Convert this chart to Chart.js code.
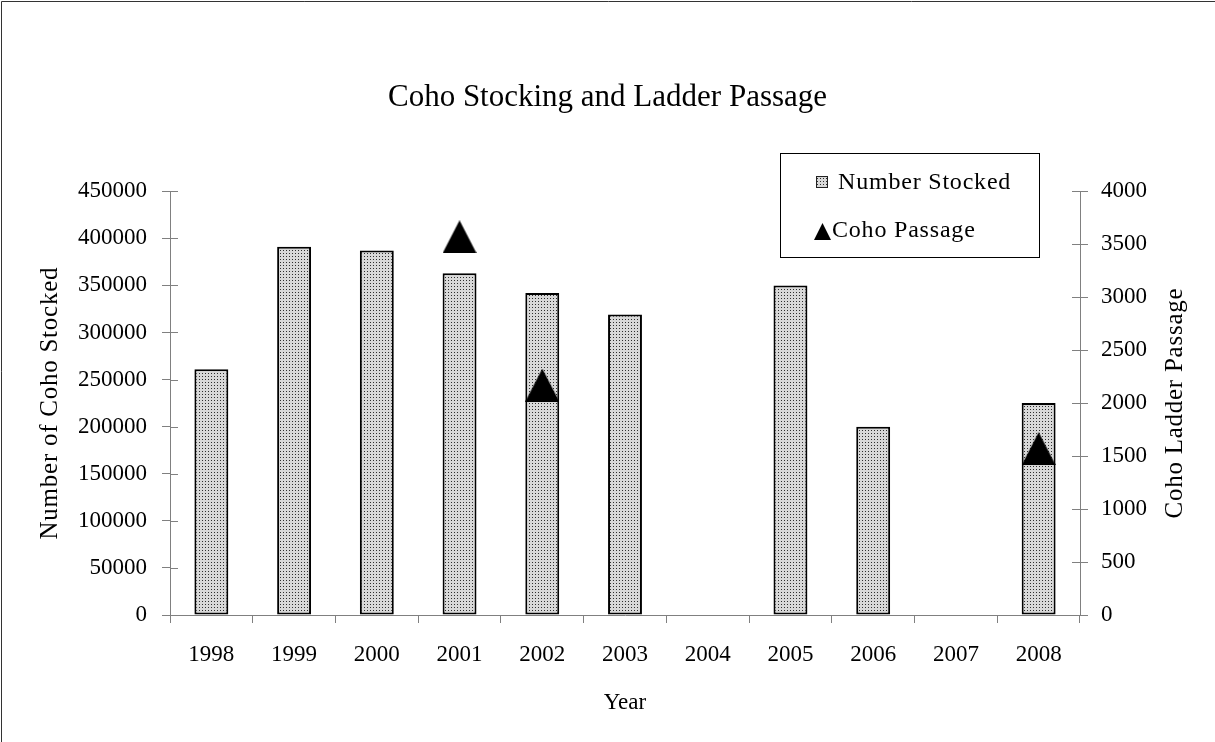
<!DOCTYPE html>
<html>
<head>
<meta charset="utf-8">
<script src="https://cdn.jsdelivr.net/npm/chart.js@4/dist/chart.umd.min.js"></script>
<style>
  body { margin: 0; background: #fff; }
  #wrap { width: 1215px; height: 742px; position: relative; }
</style>
</head>
<body>
<div id="wrap"><canvas id="cohoChart"></canvas></div>
<script>
const years = ['1998', '1999', '2000', '2001', '2002', '2003', '2004', '2005', '2006', '2007', '2008'];
const numberStocked = [261000, 391000, 387000, 363000, 342000, 319000, null, 350000, 200000, null, 225000];
const cohoPassage = [null, null, null, 3570, 2170, null, null, null, null, null, 1570];
const stockedTicks = [0, 50000, 100000, 150000, 200000, 250000, 300000, 350000, 400000, 450000];
const passageTicks = [0, 500, 1000, 1500, 2000, 2500, 3000, 3500, 4000];

const serif = '"Liberation Serif", "Times New Roman", serif';
const axisColor = '#808080';

// dotted fill used by the bars
function makeDots() {
    const tile = document.createElement('canvas');
    tile.width = 3;
    tile.height = 3;
    const t = tile.getContext('2d');
    t.fillStyle = '#d8d8d8';
    t.fillRect(0, 0, 3, 3);
    t.fillStyle = '#2e2e2e';
    t.fillRect(1, 1, 1, 1);
    return document.getElementById('cohoChart').getContext('2d').createPattern(tile, 'repeat');
}

// solid triangle marker, centred like the Excel one
function makeTriangle(w, h) {
    const c = document.createElement('canvas');
    c.width = w;
    c.height = h;
    const t = c.getContext('2d');
    t.fillStyle = '#000';
    t.beginPath();
    t.moveTo(w / 2, 0);
    t.lineTo(w, h);
    t.lineTo(0, h);
    t.closePath();
    t.fill();
    return c;
}

const dots = makeDots();
const triangle = makeTriangle(34, 33);

const crossTicks = {
    id: 'crossTicks',
    afterDraw(chart) {
        const ctx = chart.ctx;
        ctx.save();
        ctx.strokeStyle = axisColor;
        ctx.lineWidth = 1;
        ['y', 'y1'].forEach(id => {
            const s = chart.scales[id];
            s.ticks.forEach((t, i) => {
                const py = Math.round(s.getPixelForTick(i)) + 0.5;
                const x0 = id === 'y' ? s.right : s.left - 8;
                ctx.beginPath();
                ctx.moveTo(x0, py);
                ctx.lineTo(x0 + 8, py);
                ctx.stroke();
            });
        });
        // frame edge of the exported picture
        ctx.strokeStyle = '#333';
        ctx.beginPath();
        ctx.moveTo(1.5, chart.height);
        ctx.lineTo(1.5, 1.5);
        ctx.lineTo(chart.width, 1.5);
        ctx.stroke();
        ctx.restore();
    }
};

const boxLegend = {
    id: 'boxLegend',
    afterDraw(chart) {
        const ctx = chart.ctx;
        const ds = chart.data.datasets;
        ctx.save();
        ctx.strokeStyle = '#000';
        ctx.lineWidth = 1;
        ctx.strokeRect(780.5, 153.5, 259, 104);

        ctx.fillStyle = dots;
        ctx.fillRect(816, 176, 12, 12);
        ctx.strokeStyle = '#222';
        ctx.strokeRect(816.5, 176.5, 11, 11);
        ctx.drawImage(makeTriangle(17, 17), 814, 223);

        ctx.fillStyle = '#000';
        ctx.font = '24px ' + serif;
        ctx.letterSpacing = '0.8px';
        ctx.textBaseline = 'middle';
        ctx.fillText(ds[0].label, 838, 183);
        ctx.fillText(ds[1].label, 832, 231);
        ctx.restore();
    }
};

// both vertical titles read bottom-to-top and are slightly spaced out
const sideTitles = {
    id: 'sideTitles',
    beforeDraw(chart) {
        ['y', 'y1'].forEach(id => {
            const s = chart.scales[id];
            if (s._patched) return;
            const offset = id === 'y' ? 50 : -40;
            s.drawTitle = function () {
                const c = this.ctx;
                const x = id === 'y' ? this.left + offset : this.right + offset;
                c.save();
                c.font = '25px ' + serif;
                c.letterSpacing = '0.75px';
                c.fillStyle = '#000';
                c.textAlign = 'center';
                c.textBaseline = 'middle';
                c.translate(x, (this.top + this.bottom) / 2);
                c.rotate(-Math.PI / 2);
                c.fillText(this.options.title.text, 0, 0);
                c.restore();
            };
            s._patched = true;
        });
    }
};

const ctx = document.getElementById('cohoChart').getContext('2d');
new Chart(ctx, {
    type: 'bar',
    data: {
        labels: years,
        datasets: [{
            label: 'Number Stocked',
            data: numberStocked,
            backgroundColor: dots,
            borderColor: '#000',
            borderWidth: 2,
            borderSkipped: false,
            barPercentage: 0.41,
            categoryPercentage: 1,
            order: 2,
            yAxisID: 'y'
        }, {
            type: 'line',
            label: 'Coho Passage',
            data: cohoPassage,
            showLine: false,
            pointStyle: triangle,
            pointRadius: 17,
            order: 1,
            yAxisID: 'y1'
        }]
    },
    options: {
        responsive: true,
        maintainAspectRatio: false,
        animation: false,
        layout: { padding: 0 },
        plugins: {
            legend: { display: false },
            tooltip: { enabled: false },
            title: {
                display: true,
                text: 'Coho Stocking and Ladder Passage',
                color: '#000',
                font: { family: serif, size: 31, weight: 'normal' },
                padding: { top: 79, bottom: 75 }
            }
        },
        scales: {
            x: {
                afterFit: s => { s.height = 127; },
                grid: { drawOnChartArea: false, tickLength: 8, color: axisColor },
                border: { color: axisColor },
                ticks: { color: '#000', padding: 18, font: { family: serif, size: 23 } },
                title: {
                    display: true,
                    text: 'Year',
                    color: '#000',
                    font: { family: serif, size: 23 },
                    padding: { top: 0, bottom: 25 }
                }
            },
            y: {
                position: 'left',
                min: 0,
                max: 450000,
                afterFit: s => { s.width = 170; },
                afterBuildTicks: s => { s.ticks = stockedTicks.map(v => ({ value: v })); },
                grid: { drawOnChartArea: false, tickLength: 8, color: axisColor },
                border: { color: axisColor },
                ticks: { color: '#000', padding: 15, callback: v => String(v), font: { family: serif, size: 23 } },
                title: { display: true, text: 'Number of Coho Stocked' }
            },
            y1: {
                position: 'right',
                min: 0,
                max: 4000,
                afterFit: s => { s.width = 135; },
                afterBuildTicks: s => { s.ticks = passageTicks.map(v => ({ value: v })); },
                grid: { drawOnChartArea: false, tickLength: 8, color: axisColor },
                border: { color: axisColor },
                ticks: { color: '#000', padding: 13, callback: v => String(v), font: { family: serif, size: 23 } },
                title: { display: true, text: 'Coho Ladder Passage' }
            }
        }
    },
    plugins: [crossTicks, boxLegend, sideTitles]
});
</script>
</body>
</html>
